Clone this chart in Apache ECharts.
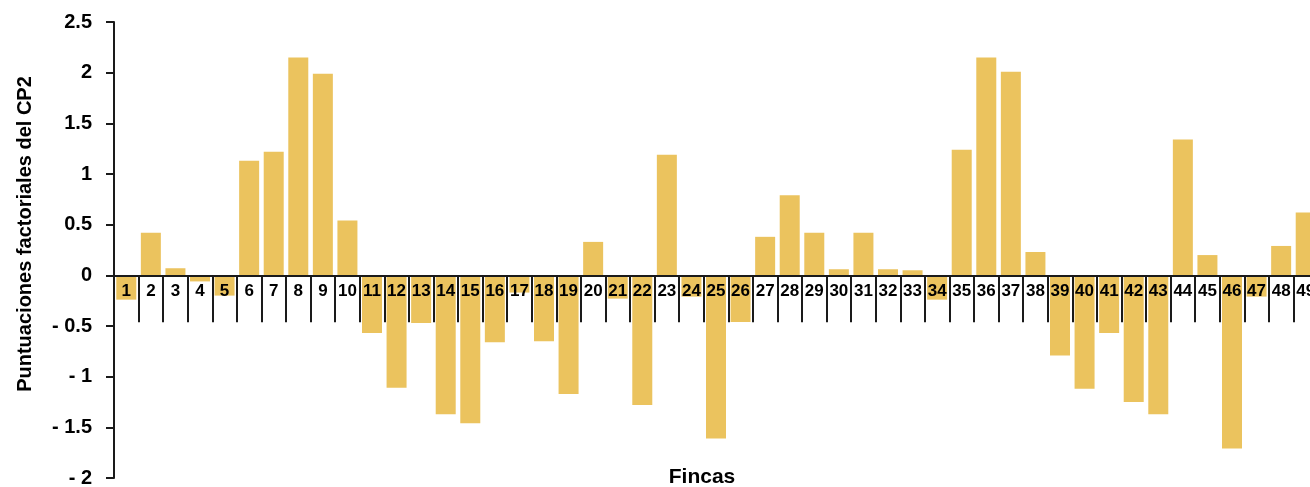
<!DOCTYPE html>
<html>
<head>
<meta charset="utf-8">
<script src="https://cdn.jsdelivr.net/npm/echarts@6/dist/echarts.min.js"></script>
<style>
html,body{margin:0;padding:0;background:#fff;}
#chart{width:1310px;height:487px;}
</style>
</head>
<body>
<div id="chart"></div>
<script>
const categories = ['1','2','3','4','5','6','7','8','9','10','11','12','13','14','15','16','17','18','19','20','21','22','23','24','25','26','27','28','29','30','31','32','33','34','35','36','37','38','39','40','41','42','43','44','45','46','47','48','49'];
const scores = [-0.24,0.42,0.07,-0.06,-0.20,1.13,1.22,2.15,1.99,0.54,-0.57,-1.11,-0.47,-1.37,-1.46,-0.66,-0.17,-0.65,-1.17,0.33,-0.23,-1.28,1.19,-0.21,-1.61,-0.46,0.38,0.79,0.42,0.06,0.42,0.06,0.05,-0.24,1.24,2.15,2.01,0.23,-0.79,-1.12,-0.57,-1.25,-1.37,1.34,0.20,-1.71,-0.21,0.29,0.62];
const yTicks = { min: -2, max: 2.5, step: 0.5 };
const yTitle = 'Puntuaciones factoriales del CP2';
const xTitle = 'Fincas';

const chart = echarts.init(document.getElementById('chart'), null, { renderer: 'canvas' });
const font = 'Liberation Sans, Arial, Helvetica, sans-serif';
chart.setOption({
  animation: false,
  backgroundColor: '#ffffff',
  grid: { left: 114, top: 22, bottom: 9, right: -8, containLabel: false, outerBoundsMode: 'none' },
  xAxis: {
    type: 'category',
    data: categories,
    z: 10,
    axisLine: { onZero: true, lineStyle: { color: '#1a1a1a', width: 2 } },
    axisTick: { show: true, length: 47, lineStyle: { color: '#1a1a1a', width: 2 } },
    axisLabel: { show: false },
    splitLine: { show: false }
  },
  yAxis: {
    type: 'value',
    min: yTicks.min,
    max: yTicks.max,
    interval: yTicks.step,
    axisLine: { show: true, lineStyle: { color: '#1a1a1a', width: 2 } },
    axisTick: { show: true, length: 8, lineStyle: { color: '#1a1a1a', width: 2 } },
    axisLabel: {
      margin: 22, color: '#000', fontWeight: 'bold', fontSize: 20, fontFamily: font,
      formatter: v => v < 0 ? '- ' + Math.abs(v) : String(v)
    },
    splitLine: { show: false }
  },
  graphic: [
    { type: 'text', x: 25.5, y: 234, rotation: Math.PI / 2,
      style: { text: yTitle, font: 'bold 20px ' + font, fill: '#000', align: 'center', verticalAlign: 'middle' } },
    { type: 'text', x: 702, y: 477,
      style: { text: xTitle, font: 'bold 21px ' + font, fill: '#000', align: 'center', verticalAlign: 'middle' } }
  ],
  series: [{
    type: 'bar',
    data: scores,
    barWidth: 20,
    itemStyle: { color: '#EBC35E' },
    z: 2
  }, {
    type: 'scatter',
    data: categories.map(() => 0),
    symbolSize: 0,
    silent: true,
    z: 11,
    itemStyle: { opacity: 1 },
    label: {
      show: true,
      position: 'bottom',
      distance: 7,
      formatter: p => p.name,
      color: '#000',
      opacity: 1,
      textBorderWidth: 0,
      textBorderColor: 'transparent',
      fontWeight: 'bold',
      fontSize: 17,
      fontFamily: font
    }
  }]
});
</script>
</body>
</html>
